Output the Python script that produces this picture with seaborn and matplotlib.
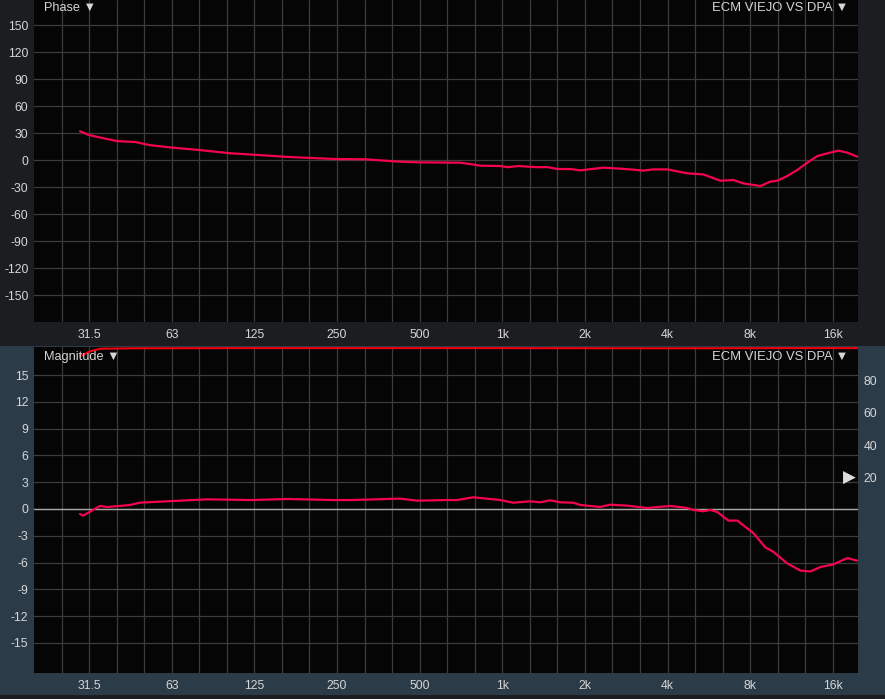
import numpy as np
import pandas as pd
import matplotlib
matplotlib.use("Agg")
import matplotlib.pyplot as plt
import matplotlib.transforms as mtransforms
from matplotlib.patches import Rectangle
from matplotlib.ticker import FixedLocator, NullFormatter
import seaborn as sns

# phase trace (Hz, degrees)
phase_freq = [29.4, 31.5, 34.8, 40.1, 46.7, 52.9, 62.6, 80.6, 103.6, 125, 171, 250, 322, 431,
              510, 714, 776, 845, 1000, 1059, 1162, 1362, 1482, 1611, 1796, 1954, 2370, 2733,
              3049, 3316, 3605, 4054, 4796, 5484, 6326, 7054, 7675, 8848, 9622, 10204, 11098,
              12070, 13126, 14276, 15520, 17032, 18370, 19970]
phase_deg = [32, 28, 25, 21, 20, 16.5, 14, 11, 7.5, 6, 3.3, 1.1, 0.8, -1.9,
             -2.6, -3, -4.5, -6.3, -6.7, -8, -6.7, -8, -7.8, -10, -10, -11.5, -8.5, -9.6,
             -10.7, -11.8, -10.4, -10.4, -14.8, -16, -23, -22.2, -26, -28.9, -24, -23, -17.8,
             -11, -3, 4.4, 7.4, 10.4, 8.1, 3.7]

# magnitude trace (Hz, dB)
mag_freq = [29.4, 30.2, 32.0, 34.8, 36.9, 41.2, 44.8, 48.7, 57.6, 72.2, 85.4, 125, 167, 246,
            284, 431, 498, 640, 696, 796, 1000, 1114, 1284, 1397, 1519, 1652, 1842, 1954,
            2310, 2512, 2900, 3428, 4159, 4796, 5044, 5484, 5818, 6169, 6766, 7296, 8346,
            9228, 9870, 11098, 12382, 13464, 14641, 16328, 18370, 20000]
mag_db = [-0.56, -0.75, -0.3, 0.34, 0.22, 0.34, 0.45, 0.71, 0.82, 0.97, 1.08, 1.0, 1.12, 1.0,
          1.0, 1.16, 0.93, 1.0, 1.0, 1.31, 1.0, 0.7, 0.86, 0.75, 0.97, 0.75, 0.7, 0.45,
          0.22, 0.48, 0.37, 0.11, 0.34, 0.11, -0.11, -0.26, -0.11, -0.34, -1.3, -1.3, -2.7,
          -4.3, -4.8, -6.1, -6.9, -7.0, -6.5, -6.2, -5.5, -5.8]

# coherence trace (Hz, %)
coh_freq = [29.4, 32.0, 34.8, 45, 100, 1000, 4000, 10000, 20000]
coh_pct = [95, 98, 99.6, 99.9, 100, 100, 99.9, 100, 100]

oct_ticks = [31.75, 63.5, 127, 254, 508, 1016, 2032, 4064, 8128, 16256]
oct_labels = ["31.5", "63", "125", "250", "500", "1k", "2k", "4k", "8k", "16k"]
phase_ticks = [-150, -120, -90, -60, -30, 0, 30, 60, 90, 120, 150]
mag_ticks = [-15, -12, -9, -6, -3, 0, 3, 6, 9, 12, 15]
coh_ticks = [20, 40, 60, 80]

sns.set_style("dark")
plt.rcParams["font.family"] = ["Liberation Sans", "DejaVu Sans"]
plt.rcParams["axes.unicode_minus"] = False

TRACE = "#f5034e"
COH = "#f00010"
TXT = "#d6d6d6"
GRID = "#3c3c3c"
FS = 8.8

fig = plt.figure(figsize=(8.85, 6.99), dpi=100, facecolor="#1b1d21")
fig.patches.append(Rectangle((0, 4 / 699), 1, 349 / 699, transform=fig.transFigure,
                             facecolor="#2b3b48", edgecolor="none", zorder=-10))

ax1 = fig.add_axes([34 / 885, 377 / 699, 824 / 885, 322 / 699])
ax2 = fig.add_axes([34 / 885, 26 / 699, 824 / 885, 326 / 699])

third_oct = 20 * 2 ** (np.arange(1, 30) / 3)

for ax in (ax1, ax2):
    ax.set_facecolor("#050505")
    ax.set_xscale("log")
    ax.set_xlim(20, 20080)
    ax.xaxis.set_major_locator(FixedLocator(oct_ticks))
    ax.set_xticklabels(oct_labels)
    ax.xaxis.set_minor_locator(FixedLocator(third_oct))
    ax.xaxis.set_minor_formatter(NullFormatter())
    ax.grid(True, which="both", color=GRID, lw=0.9)
    ax.tick_params(which="both", length=0, colors=TXT, labelsize=FS)
    ax.tick_params(axis="x", pad=5)
    ax.tick_params(axis="y", pad=4)
    for s in ax.spines.values():
        s.set_visible(False)
    ax.set_xlabel("")
    ax.set_ylabel("")

sns.lineplot(x=phase_freq, y=phase_deg, ax=ax1, color=TRACE, lw=1.6)
ax1.set_ylim(-180, 177.8)
ax1.set_yticks(phase_ticks)
ax1.set_xlim(20, 20080)

ax2.axhline(0, color="#a8a8a8", lw=1.0, zorder=1.5)
sns.lineplot(x=mag_freq, y=mag_db, ax=ax2, color=TRACE, lw=1.6, zorder=3)
ax2.set_ylim(-18.37, 18.14)
ax2.set_yticks(mag_ticks)
ax2.set_xlim(20, 20080)

ax3 = ax2.twinx()
sns.lineplot(x=coh_freq, y=coh_pct, ax=ax3, color=COH, lw=1.5)
ax3.set_ylim(-101, 100.7)
ax3.set_yticks(coh_ticks)
ax3.tick_params(length=0, colors=TXT, labelsize=FS, pad=4)
ax3.grid(False)
ax3.set_ylabel("")
for s in ax3.spines.values():
    s.set_visible(False)
ax3.set_xlim(20, 20080)

trans = mtransforms.blended_transform_factory(ax3.transAxes, ax3.transData)
ax3.text(0.9895, 20, "\u25B6", transform=trans, ha="center", va="center",
         color="#dcdcdc", fontsize=12, family=["DejaVu Sans"])

ax1.text(0.012, 0.975, "Phase \u25BC", transform=ax1.transAxes, ha="left", va="center",
         color=TXT, fontsize=9.2)
ax1.text(0.988, 0.975, "ECM VIEJO VS DPA \u25BC", transform=ax1.transAxes, ha="right",
         va="center", color=TXT, fontsize=9.4)
ax3.text(0.012, 0.969, "Magnitude \u25BC", transform=ax3.transAxes, ha="left", va="center",
         color=TXT, fontsize=9.2, zorder=5)
ax3.text(0.988, 0.969, "ECM VIEJO VS DPA \u25BC", transform=ax3.transAxes, ha="right",
         va="center", color=TXT, fontsize=9.4)

fig.savefig("out.png", dpi=100, facecolor=fig.get_facecolor())
